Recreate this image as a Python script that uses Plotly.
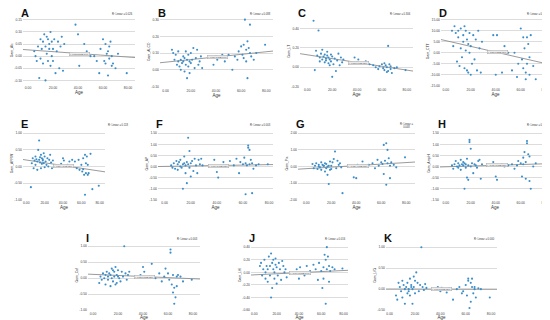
import plotly.graph_objects as go

W, H = 550, 320

# ---------------- data ----------------
ages = [5, 6, 7, 8, 9, 10, 10, 11, 12, 12, 13, 14, 14, 15, 15, 16, 16, 17, 17, 18,
        18, 19, 19, 20, 20, 21, 22, 23, 24, 25, 26, 27, 28, 29,
        38, 40, 41, 45, 47, 50,
        53, 55, 57, 58, 60, 61, 62, 62, 63, 64, 64, 65, 65, 66, 67, 67, 68, 70, 72, 79]

panel_letters = ["A", "B", "C", "D", "E", "F", "G", "H", "I", "J", "K"]
y_titles = ["Gam_Alc", "Gam_ALCO", "Gam_LT", "Gam_CTT", "Gam_APRW", "Gam_AP",
            "Gam_Pix", "Gam_AmpH", "Gam_Caf", "Gam_LH", "Gam_LfG"]
r2_values = ["0.026", "0.088", "0.306", "0.130", "0.118", "0.003",
             "0.048", "0.016", "0.003", "0.016", "0.000"]
fit_intercepts = [0.026, 0.0455, 0.128, 5.5, 0.195, 0.005, -0.13, -0.012, 0.12, -0.04, 0.003]
fit_slopes = [-0.00037, 0.00078, -0.00198, -0.13, -0.00414, 0.001, 0.0046, 0.0017, -0.0017, 0.00086, -0.00005]

vals_A = [0.02, 0.00, -0.02, 0.04, -0.09, 0.07, -0.01, 0.03, 0.06, -0.03, 0.09, 0.04, -0.10, 0.08, 0.01, 0.07, -0.02, 0.03, 0.05, -0.04,
          0.10, 0.06, 0.00, 0.03, -0.02, 0.07, -0.07, 0.02, 0.06, -0.05, 0.04, 0.08, -0.06, 0.05,
          0.13, 0.09, -0.04, 0.05, 0.02, 0.00,
          0.00, -0.02, -0.07, 0.03, 0.07, -0.02, 0.05, -0.03, 0.01, 0.02, -0.08, 0.04, -0.01, 0.06, -0.04, 0.00, -0.03, -0.05, 0.01, -0.07]
vals_B = [0.12, 0.10, 0.06, 0.09, 0.03, 0.05, 0.11, 0.02, 0.06, 0.00, 0.04, 0.08, 0.05, 0.07, -0.01, 0.11, 0.03, 0.06, -0.05, 0.09,
          0.02, 0.05, -0.02, 0.10, 0.04, 0.06, 0.13, 0.01, 0.07, 0.12, 0.03, 0.05, 0.08, 0.01,
          0.03, 0.08, 0.06, 0.09, 0.05, 0.09,
          0.00, 0.08, 0.06, 0.11, 0.14, 0.09, 0.07, 0.15, 0.30, 0.12, 0.05, 0.17, -0.05, 0.13, 0.27, 0.10, 0.08, 0.06, 0.10, 0.15]
vals_C = [0.48, -0.03, 0.17, 0.12, 0.38, 0.10, 0.06, 0.14, 0.08, 0.18, 0.11, 0.05, 0.13, 0.09, 0.07, 0.16, 0.12, 0.04, 0.10, 0.08,
          0.02, 0.13, 0.06, -0.10, 0.11, 0.03, 0.09, -0.04, 0.07, 0.14, 0.02, 0.10, 0.05, 0.08,
          0.10, 0.05, 0.08, 0.04, 0.06, 0.03,
          0.02, 0.00, -0.02, 0.01, 0.03, -0.01, 0.04, -0.03, 0.02, -0.05, 0.00, 0.22, -0.04, 0.03, -0.02, 0.01, -0.06, -0.01, 0.00, -0.03]
vals_D = [10, 3, 12, 9, -4, 10, 7, -6, 2, 11, -2, 8, 5, -7, 12, 10, 1, -8, 6, 4,
          -9, 0, 9, -10, 3, -5, 8, -3, 6, -8, 10, 2, -9, 5,
          8, -10, 8, -9, 3, 0,
          -8, 0, -11, -5, 11, -3, 7, -7, 2, -9, -12, 7, -5, 4, -10, -2, 8, -6, -12, 6]
vals_E = [-0.62, 0.10, 0.25, -0.05, 0.18, 0.30, 0.05, 0.22, -0.10, 0.15, 0.50, 0.78, 0.20, 0.28, 0.12, -0.05, 0.35, 0.25, 0.08, 0.18,
          0.22, 0.10, 0.40, -0.02, 0.30, 0.15, 0.05, 0.25, 0.00, 0.20, 0.35, 0.12, -0.05, 0.18,
          0.08, 0.25, 0.18, 0.05, 0.15, 0.20,
          0.15, -0.05, 0.20, -0.10, 0.05, -0.15, 0.25, -0.08, -0.25, 0.35, -0.85, 0.10, -0.20, 0.30, -0.25, 0.05, -0.20, 0.38, -0.68, -0.58]
vals_F = [0.05, -0.05, 0.15, -0.10, 0.25, 0.10, -0.15, 0.20, 0.00, 0.30, -0.05, 0.10, -1.00, 0.45, 0.15, -0.30, 0.05, -0.75, 0.20, 0.10,
          1.30, 0.70, -0.05, 0.15, -0.45, 0.25, -0.20, 0.35, 0.05, -0.30, 0.30, 0.10, 0.35, 0.05,
          0.30, -0.25, -0.50, 0.20, 0.05, 0.25,
          0.05, 0.35, -0.30, 0.20, 0.10, 0.40, 0.15, -1.25, 0.05, 0.95, 0.85, 0.75, 0.10, 0.30, -1.20, 0.15, -0.10, 0.05, 0.10, 0.10]
vals_G = [0.15, -0.10, 0.05, 0.20, -0.15, 0.10, 0.00, -0.05, 0.25, -0.20, 0.10, 0.05, 0.05, 0.20, -0.30, 0.15, -0.10, 0.00, -0.50, -1.05,
          0.05, 0.30, -0.20, 0.05, -0.15, 0.25, 0.45, 0.90, -0.10, 0.35, 0.10, 0.20, -0.05, -1.60,
          -0.65, -0.70, 0.10, 0.30, 0.05, 0.10,
          0.20, -0.10, 0.40, 0.05, 0.25, 0.15, 1.30, -0.45, 0.35, 1.40, -1.10, 0.20, 1.00, 0.50, -0.70, 0.05, 0.25, 0.10, -0.05, 0.55]
vals_H = [0.05, -0.10, 0.10, 0.25, 0.00, 0.15, -0.05, 0.05, 0.30, -0.15, 0.10, 0.05, 0.20, -1.00, 0.15, -0.05, 0.10, 0.35, -0.50, -0.60,
          0.05, 1.20, 1.10, 0.80, 0.00, 0.15, -0.30, 0.10, 0.05, -0.05, 0.25, 0.30, -0.55, 0.10,
          0.20, -0.45, -0.60, 0.10, 0.00, 0.05,
          0.10, -0.10, 0.05, 0.25, 0.15, -0.45, 0.10, 0.40, 0.65, -0.55, 0.20, 1.15, 1.05, 0.55, -0.65, 0.45, -1.00, 0.00, 0.15, 0.30]
vals_I = [-0.15, 0.05, -0.05, 0.15, 0.00, -0.20, 0.10, 0.20, -0.05, 0.05, 0.15, -0.25, 0.10, 0.30, 0.00, 0.25, -0.10, 0.05, 0.20, -0.20,
          0.35, 0.10, -0.15, 0.05, 0.25, 0.00, -0.10, 0.20, 0.05, 1.00, 0.15, -0.05, 0.10, 0.20,
          0.10, 0.35, 0.20, 0.05, 0.45, 0.00,
          0.15, -0.10, 0.05, 0.30, 0.15, -0.05, 0.90, 0.80, -0.20, -0.45, 0.10, -0.80, -0.30, -0.60, 0.05, -0.25, 0.10, 0.05, -0.10, -0.05]
vals_J = [0.10, 0.15, -0.05, 0.05, 0.20, -0.10, 0.00, 0.10, -0.15, 0.05, 0.25, -0.05, 0.10, 0.30, -0.40, 0.15, -0.25, 0.05, 0.20, -0.10,
          0.00, 0.12, 0.22, -0.18, 0.08, -0.05, 0.15, 0.05, -0.12, 0.18, 0.10, 0.00, 0.05, -0.08,
          0.05, -0.10, 0.08, -0.05, 0.10, 0.02,
          0.12, 0.05, -0.12, 0.15, 0.02, -0.25, 0.08, -0.10, 0.28, -0.50, 0.20, 0.40, 0.05, 0.25, -0.15, 0.10, 0.02, 0.08, 0.05, 0.06]
vals_K = [-0.15, -0.25, 0.15, 0.05, -0.05, 0.20, -0.20, 0.10, 0.00, -0.35, 0.05, -0.10, 0.15, 0.00, -0.05, 0.25, -0.15, 0.05, 0.10, -0.35,
          0.00, 0.30, 0.05, -0.10, 0.20, 0.40, 0.15, -0.05, 0.10, 1.00, 0.05, -0.02, 0.12, 0.03,
          0.05, -0.05, 0.03, -0.08, 0.02, -0.25,
          0.00, 0.05, -0.10, -0.05, 0.10, -0.15, 0.20, 0.25, -0.45, 0.15, -0.30, 0.05, 0.25, -0.10, 0.00, 0.05, -0.20, 0.02, 0.00, -0.20]

y_ticks_A = [-0.10, -0.05, 0.00, 0.05, 0.10, 0.15]
y_ticks_B = [-0.10, 0.00, 0.10, 0.20, 0.30]
y_ticks_C = [-0.20, 0.00, 0.20, 0.40]
y_ticks_D = [-15, -10, -5, 0, 5, 10, 15]
y_ticks_E = [-1.0, -0.5, 0.0, 0.5, 1.0]
y_ticks_F = [-1.5, -1.0, -0.5, 0.0, 0.5, 1.0, 1.5]
y_ticks_G = [-2, -1, 0, 1, 2]
y_ticks_H = [-1.5, -1.0, -0.5, 0.0, 0.5, 1.0, 1.5]
y_ticks_I = [-1.0, -0.5, 0.0, 0.5, 1.0]
y_ticks_J = [-0.6, -0.4, -0.2, 0.0, 0.2, 0.4]
y_ticks_K = [-0.5, 0.0, 0.5, 1.0]
x_ticks = [0, 20, 40, 60, 80]

# ---------------- layout (pixels) ----------------
boxes = [(15, 127, 8, 77), (152, 265, 8, 80), (292, 405, 8, 79), (433, 542, 8, 79),
         (15, 97, 120, 193), (150, 265, 120, 193), (290, 407, 120, 193), (432, 542, 120, 193),
         (80, 192, 234, 304), (243, 340, 234, 304), (378, 489, 234, 304)]
x_ranges = [(-4, 85.6), (-4.5, 85.3), (-5.9, 85), (-3.8, 83.4), (-3.6, 85.8), (-5.1, 83),
            (-6.6, 87), (-4.6, 83.4), (-4, 85.6), (-3, 84), (-2.9, 84.7)]
y_ranges = [(-0.117, 0.166), (-0.106, 0.322), (-0.2, 0.53), (-15.3, 16.7), (-1.0, 1.18), (-1.5, 1.77),
            (-2.0, 2.36), (-1.5, 1.77), (-1.0, 1.18), (-0.6, 0.505), (-0.5, 1.16)]

all_vals = [vals_A, vals_B, vals_C, vals_D, vals_E, vals_F, vals_G, vals_H, vals_I, vals_J, vals_K]
all_yticks = [y_ticks_A, y_ticks_B, y_ticks_C, y_ticks_D, y_ticks_E, y_ticks_F,
              y_ticks_G, y_ticks_H, y_ticks_I, y_ticks_J, y_ticks_K]

FONT = "Liberation Sans"
fig = go.Figure()
annotations = []
layout_axes = {}

for i in range(11):
    l, r, t, b = boxes[i]
    n = i + 1
    xa = "x" if n == 1 else f"x{n}"
    ya = "y" if n == 1 else f"y{n}"
    xkey = "xaxis" if n == 1 else f"xaxis{n}"
    ykey = "yaxis" if n == 1 else f"yaxis{n}"

    x0, x1 = x_ranges[i]
    a, s = fit_intercepts[i], fit_slopes[i]
    fig.add_trace(go.Scatter(x=[x0, x1], y=[a + s * x0, a + s * x1], mode="lines",
                             xaxis=xa, yaxis=ya, line=dict(color="#8f8f8f", width=0.9),
                             showlegend=False, hoverinfo="skip"))
    fig.add_trace(go.Scatter(x=ages, y=all_vals[i], mode="markers", xaxis=xa, yaxis=ya,
                             marker=dict(size=2.1, color="#3b8ec9"), showlegend=False,
                             hoverinfo="skip"))

    layout_axes[xkey] = dict(domain=[l / W, r / W], range=list(x_ranges[i]), anchor=ya,
                             tickvals=x_ticks, ticktext=[f"{v:.2f}" for v in x_ticks],
                             tickfont=dict(size=3.4, color="#444", family=FONT),
                             showgrid=False, zeroline=False, showline=False, ticks="",
                             title=dict(text="Age", font=dict(size=4.5, color="#333", family=FONT),
                                        standoff=1))
    layout_axes[ykey] = dict(domain=[1 - b / H, 1 - t / H], range=list(y_ranges[i]), anchor=xa,
                             tickvals=all_yticks[i], ticktext=[f"{v:.2f}" for v in all_yticks[i]],
                             tickfont=dict(size=3.4, color="#444", family=FONT),
                             showgrid=True, gridcolor="#dcdcdc", gridwidth=0.6,
                             zeroline=False, showline=False, ticks="",
                             title=dict(text=y_titles[i], font=dict(size=3.4, color="#333", family=FONT),
                                        standoff=1))

    annotations.append(dict(text=f"<b>{panel_letters[i]}</b>", x=(l - 4) / W, y=1 - (t - 3) / H,
                            xref="paper", yref="paper", xanchor="left", yanchor="middle",
                            showarrow=False, font=dict(size=11, color="#111", family=FONT)))
    r2_txt = f"R² Linear = {r2_values[i]}"
    if panel_letters[i] == "G":
        r2_txt = f"R² Linear =<br>{r2_values[i]}"
    rx = r / W if panel_letters[i] != "E" else 122 / W
    annotations.append(dict(text=r2_txt, x=rx, y=1 - (t - 2) / H, xref="paper", yref="paper",
                            xanchor="right", yanchor="middle", showarrow=False,
                            font=dict(size=2.6, color="#333", family=FONT)))
    xm = 41
    annotations.append(dict(text=f"y={a:.2f}{s:+.2E}*x", x=xm, y=a + s * xm, xref=xa, yref=ya,
                            showarrow=False, font=dict(size=2.2, color="#444", family=FONT),
                            bgcolor="#ececec", bordercolor="#9a9a9a", borderwidth=0.4, borderpad=0.5))

fig.update_layout(width=W, height=H, margin=dict(l=0, r=0, t=0, b=0),
                  paper_bgcolor="white", plot_bgcolor="white",
                  font=dict(family=FONT), annotations=annotations, **layout_axes)

fig.write_html("out.html")
